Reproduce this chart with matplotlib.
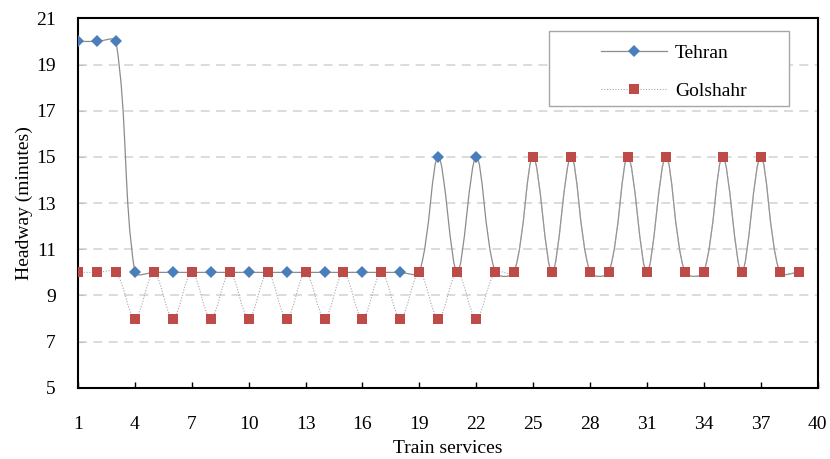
import matplotlib.pyplot as plt
import numpy as np
from matplotlib.path import Path
from matplotlib.patches import PathPatch, Rectangle
from matplotlib.lines import Line2D

plt.rcParams['font.family'] = ['Liberation Serif', 'DejaVu Serif']

services = np.arange(1, 40)
tehran = [20, 20, 20, 10, 10, 10, 10, 10, 10, 10, 10, 10, 10, 10, 10, 10, 10, 10, 10,
          15, 10, 15, 10, 10, 15, 10, 15, 10, 10, 15, 10, 15, 10, 10, 15, 10, 15, 10, 10]
golshahr = [10, 10, 10, 8, 10, 8, 10, 8, 10, 8, 10, 8, 10, 8, 10, 8, 10, 8, 10,
            8, 10, 8, 10, 10, 15, 10, 15, 10, 10, 15, 10, 15, 10, 10, 15, 10, 15, 10, 10]
# Tehran markers only show where they are not hidden behind Golshahr squares
tehran_marked = [1, 2, 3, 4, 6, 8, 10, 12, 14, 16, 18, 20, 22]

x_ticks = np.arange(1, 41, 3)
y_ticks = np.arange(5, 22, 2)

BLUE = '#4a7ebb'
RED = '#be4b48'


def smooth_path(ax, xs, ys):
    # Excel-like smoothed line: cubic Bezier, tangents weighted by display distances
    pts = np.column_stack([xs, ys]).astype(float)
    disp = ax.transData.transform(pts)
    n = len(pts)
    d = np.hypot(*np.diff(disp, axis=0).T)
    verts = [pts[0]]
    codes = [Path.MOVETO]
    f = 1 / 3
    for i in range(n - 1):
        p0 = pts[i - 1] if i > 0 else pts[i]
        p1, p2 = pts[i], pts[i + 1]
        p3 = pts[i + 2] if i + 2 < n else pts[i + 1]
        d0 = d[i - 1] if i > 0 else 0
        d1 = d[i]
        d2 = d[i + 1] if i + 1 < n - 1 else 0
        c1 = p1 + f * (p2 - p0) * d1 / (d0 + d1) if d0 + d1 > 0 else p1
        c2 = p2 - f * (p3 - p1) * d1 / (d1 + d2) if d1 + d2 > 0 else p2
        verts += [c1, c2, p2]
        codes += [Path.CURVE4] * 3
    return Path(verts, codes)


fig, ax = plt.subplots(figsize=(8.3, 4.59), dpi=100)
fig.subplots_adjust(left=0.094, right=0.985, bottom=0.155, top=0.96)

ax.set_xlim(1, 40)
ax.set_ylim(5, 21)
ax.set_xticks(x_ticks)
ax.set_yticks(y_ticks)

for y in y_ticks[1:-1]:
    ax.axhline(y, color='#d9d9d9', lw=1.3, dashes=(5, 3.5), zorder=0)

ax.add_patch(PathPatch(smooth_path(ax, services, tehran), fill=False,
                       edgecolor='#8c8c8c', lw=0.9, zorder=2))
ax.plot(tehran_marked, [tehran[i - 1] for i in tehran_marked], 'D', color=BLUE,
        markersize=6, markeredgewidth=0, zorder=3)
ax.add_patch(PathPatch(smooth_path(ax, services, golshahr), fill=False,
                       edgecolor='#a6a6a6', lw=0.8, ls=(0, (1, 1.5)), zorder=2))
ax.plot(services, golshahr, 's', color=RED, markersize=7, markeredgewidth=0, zorder=4)

for s in ax.spines.values():
    s.set_linewidth(1.5)
    s.set_color('black')

ax.tick_params(axis='x', direction='in', length=4, width=1, pad=20, labelsize=14)
ax.tick_params(axis='y', direction='in', length=4, width=0.8, color='#bfbfbf',
               pad=16, labelsize=14)
ax.set_xlabel('Train services', fontsize=14, labelpad=5)
ax.set_ylabel('Headway (minutes)', fontsize=14, labelpad=2)

# legend frame drawn separately so the padding can match the reference
ax.add_patch(Rectangle((0.6365, 0.764), 0.3255, 0.201, transform=ax.transAxes,
                       facecolor='white', edgecolor='#a6a6a6', lw=1, zorder=5))
handles = [
    Line2D([], [], color='#8c8c8c', lw=0.9, marker='D', markersize=6,
           markerfacecolor=BLUE, markeredgewidth=0),
    Line2D([], [], color='#a6a6a6', lw=0.8, ls=(0, (1, 1.5)), marker='s',
           markersize=7, markerfacecolor=RED, markeredgewidth=0),
]
leg = ax.legend(handles, ['Tehran', 'Golshahr'], loc='upper left',
                bbox_to_anchor=(0.707, 0.929), fontsize=14, frameon=False,
                handlelength=3.4, handletextpad=0.4, labelspacing=1.05,
                borderpad=0, borderaxespad=0)
leg.set_zorder(6)

fig.savefig('out.png', dpi=100)
